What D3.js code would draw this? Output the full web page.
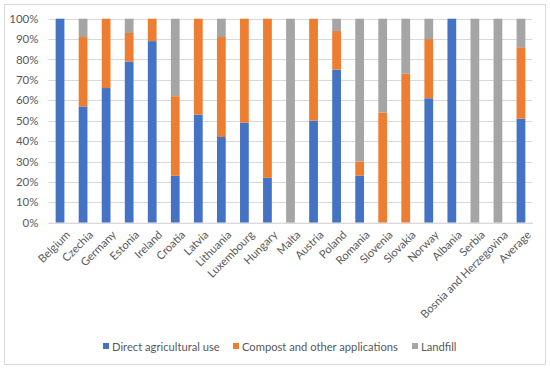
<!DOCTYPE html>
<html>
<head>
<meta charset="utf-8">
<script src="https://cdn.jsdelivr.net/npm/d3@7"></script>
<style>
  body { margin: 0; background: #fff; }
  text { font-family: Lato, "Open Sans", sans-serif; fill: #595959; }
</style>
</head>
<body>
<script>
var svgWidth = 550,
    svgHeight = 369;

// data (percent of total)
var countries = ["Belgium", "Czechia", "Germany", "Estonia", "Ireland", "Croatia", "Latvia",
                 "Lithuania", "Luxembourg", "Hungary", "Malta", "Austria", "Poland", "Romania",
                 "Slovenia", "Slovakia", "Norway", "Albania", "Serbia", "Bosnia and Herzegovina", "Average"];
var directAgri = [100, 57, 66, 79, 89, 23, 53, 42, 49, 22, 0, 50, 75, 23, 0, 0, 61, 100, 0, 0, 51];
var compost    = [0, 34, 34, 14, 11, 39, 47, 49, 51, 78, 0, 50, 19, 7, 54, 73, 29, 0, 0, 0, 35];
var landfill   = [0, 9, 0, 7, 0, 38, 0, 9, 0, 0, 100, 0, 6, 70, 46, 27, 10, 0, 100, 100, 14];
var seriesNames = ["Direct agricultural use", "Compost and other applications", "Landfill"];
var colors = ["#4472C4", "#ED7D31", "#A5A5A5"];
var yTicks = [0, 10, 20, 30, 40, 50, 60, 70, 80, 90, 100];

var rows = countries.map(function(c, i) {
    return { country: c, a: directAgri[i], b: compost[i], c: landfill[i] };
});

var margin = { left: 48.5, right: 17.5, top: 18.7, bottom: 146.3 };

var svg = d3.select("body").append("svg")
    .attr("width", svgWidth)
    .attr("height", svgHeight);

// chart border
svg.append("rect")
    .attr("x", 4.5).attr("y", 4.5)
    .attr("width", 541).attr("height", 360)
    .attr("fill", "none")
    .attr("stroke", "#D9D9D9");

var x = d3.scaleBand()
    .domain(countries)
    .range([margin.left, svgWidth - margin.right])
    .paddingInner(0.62)
    .paddingOuter(0.31);

var y = d3.scaleLinear()
    .domain([0, 100])
    .range([svgHeight - margin.bottom, margin.top]);

// gridlines
svg.append("g").selectAll("line")
    .data(yTicks)
    .enter().append("line")
        .attr("x1", margin.left)
        .attr("x2", svgWidth - margin.right)
        .attr("y1", function(d) { return Math.round(y(d)) + 0.5; })
        .attr("y2", function(d) { return Math.round(y(d)) + 0.5; })
        .attr("stroke", "#D9D9D9");

// y axis labels
var yAxis = svg.append("g")
    .attr("transform", "translate(" + (margin.left - 10) + ",0)")
    .call(d3.axisLeft(y).tickValues(yTicks).tickSize(0).tickPadding(0)
        .tickFormat(function(d) { return d + "%"; }));
yAxis.select(".domain").remove();
yAxis.selectAll("text").style("font-size", "11.5px").attr("fill", "#595959");

var stack = d3.stack().keys(["a", "b", "c"]);
var layers = stack(rows);

svg.append("g").selectAll("g")
    .data(layers)
    .enter().append("g")
        .attr("fill", function(d, i) { return colors[i]; })
    .selectAll("rect")
    .data(function(d) { return d; })
    .enter().append("rect")
        .attr("x", function(d) { return x(d.data.country); })
        .attr("width", x.bandwidth())
        .attr("y", function(d) { return y(d[1]); })
        .attr("height", function(d) { return y(d[0]) - y(d[1]); });

// x axis
var xAxis = svg.append("g")
    .attr("transform", "translate(0," + (svgHeight - margin.bottom) + ")")
    .call(d3.axisBottom(x).tickSize(0).tickPadding(0));
xAxis.select(".domain").attr("stroke", "#D9D9D9");
xAxis.selectAll("text")
    .style("font-size", "11.2px")
    .attr("fill", "#595959")
    .attr("text-anchor", "end")
    .attr("dy", "0.35em")
    .attr("transform", "translate(8,10) rotate(-45)");

// legend
var legendX = [103, 233, 412];
var legend = svg.append("g").selectAll("g")
    .data(seriesNames)
    .enter().append("g")
        .attr("transform", function(d, i) { return "translate(" + legendX[i] + ",347)"; });
legend.append("rect")
    .attr("x", 0).attr("y", -4)
    .attr("width", 6).attr("height", 6)
    .attr("fill", function(d, i) { return colors[i]; });
legend.append("text")
    .attr("x", 9).attr("y", 0)
    .attr("dy", "0.35em")
    .style("font-size", "11.2px")
    .text(function(d) { return d; });
</script>
</body>
</html>
